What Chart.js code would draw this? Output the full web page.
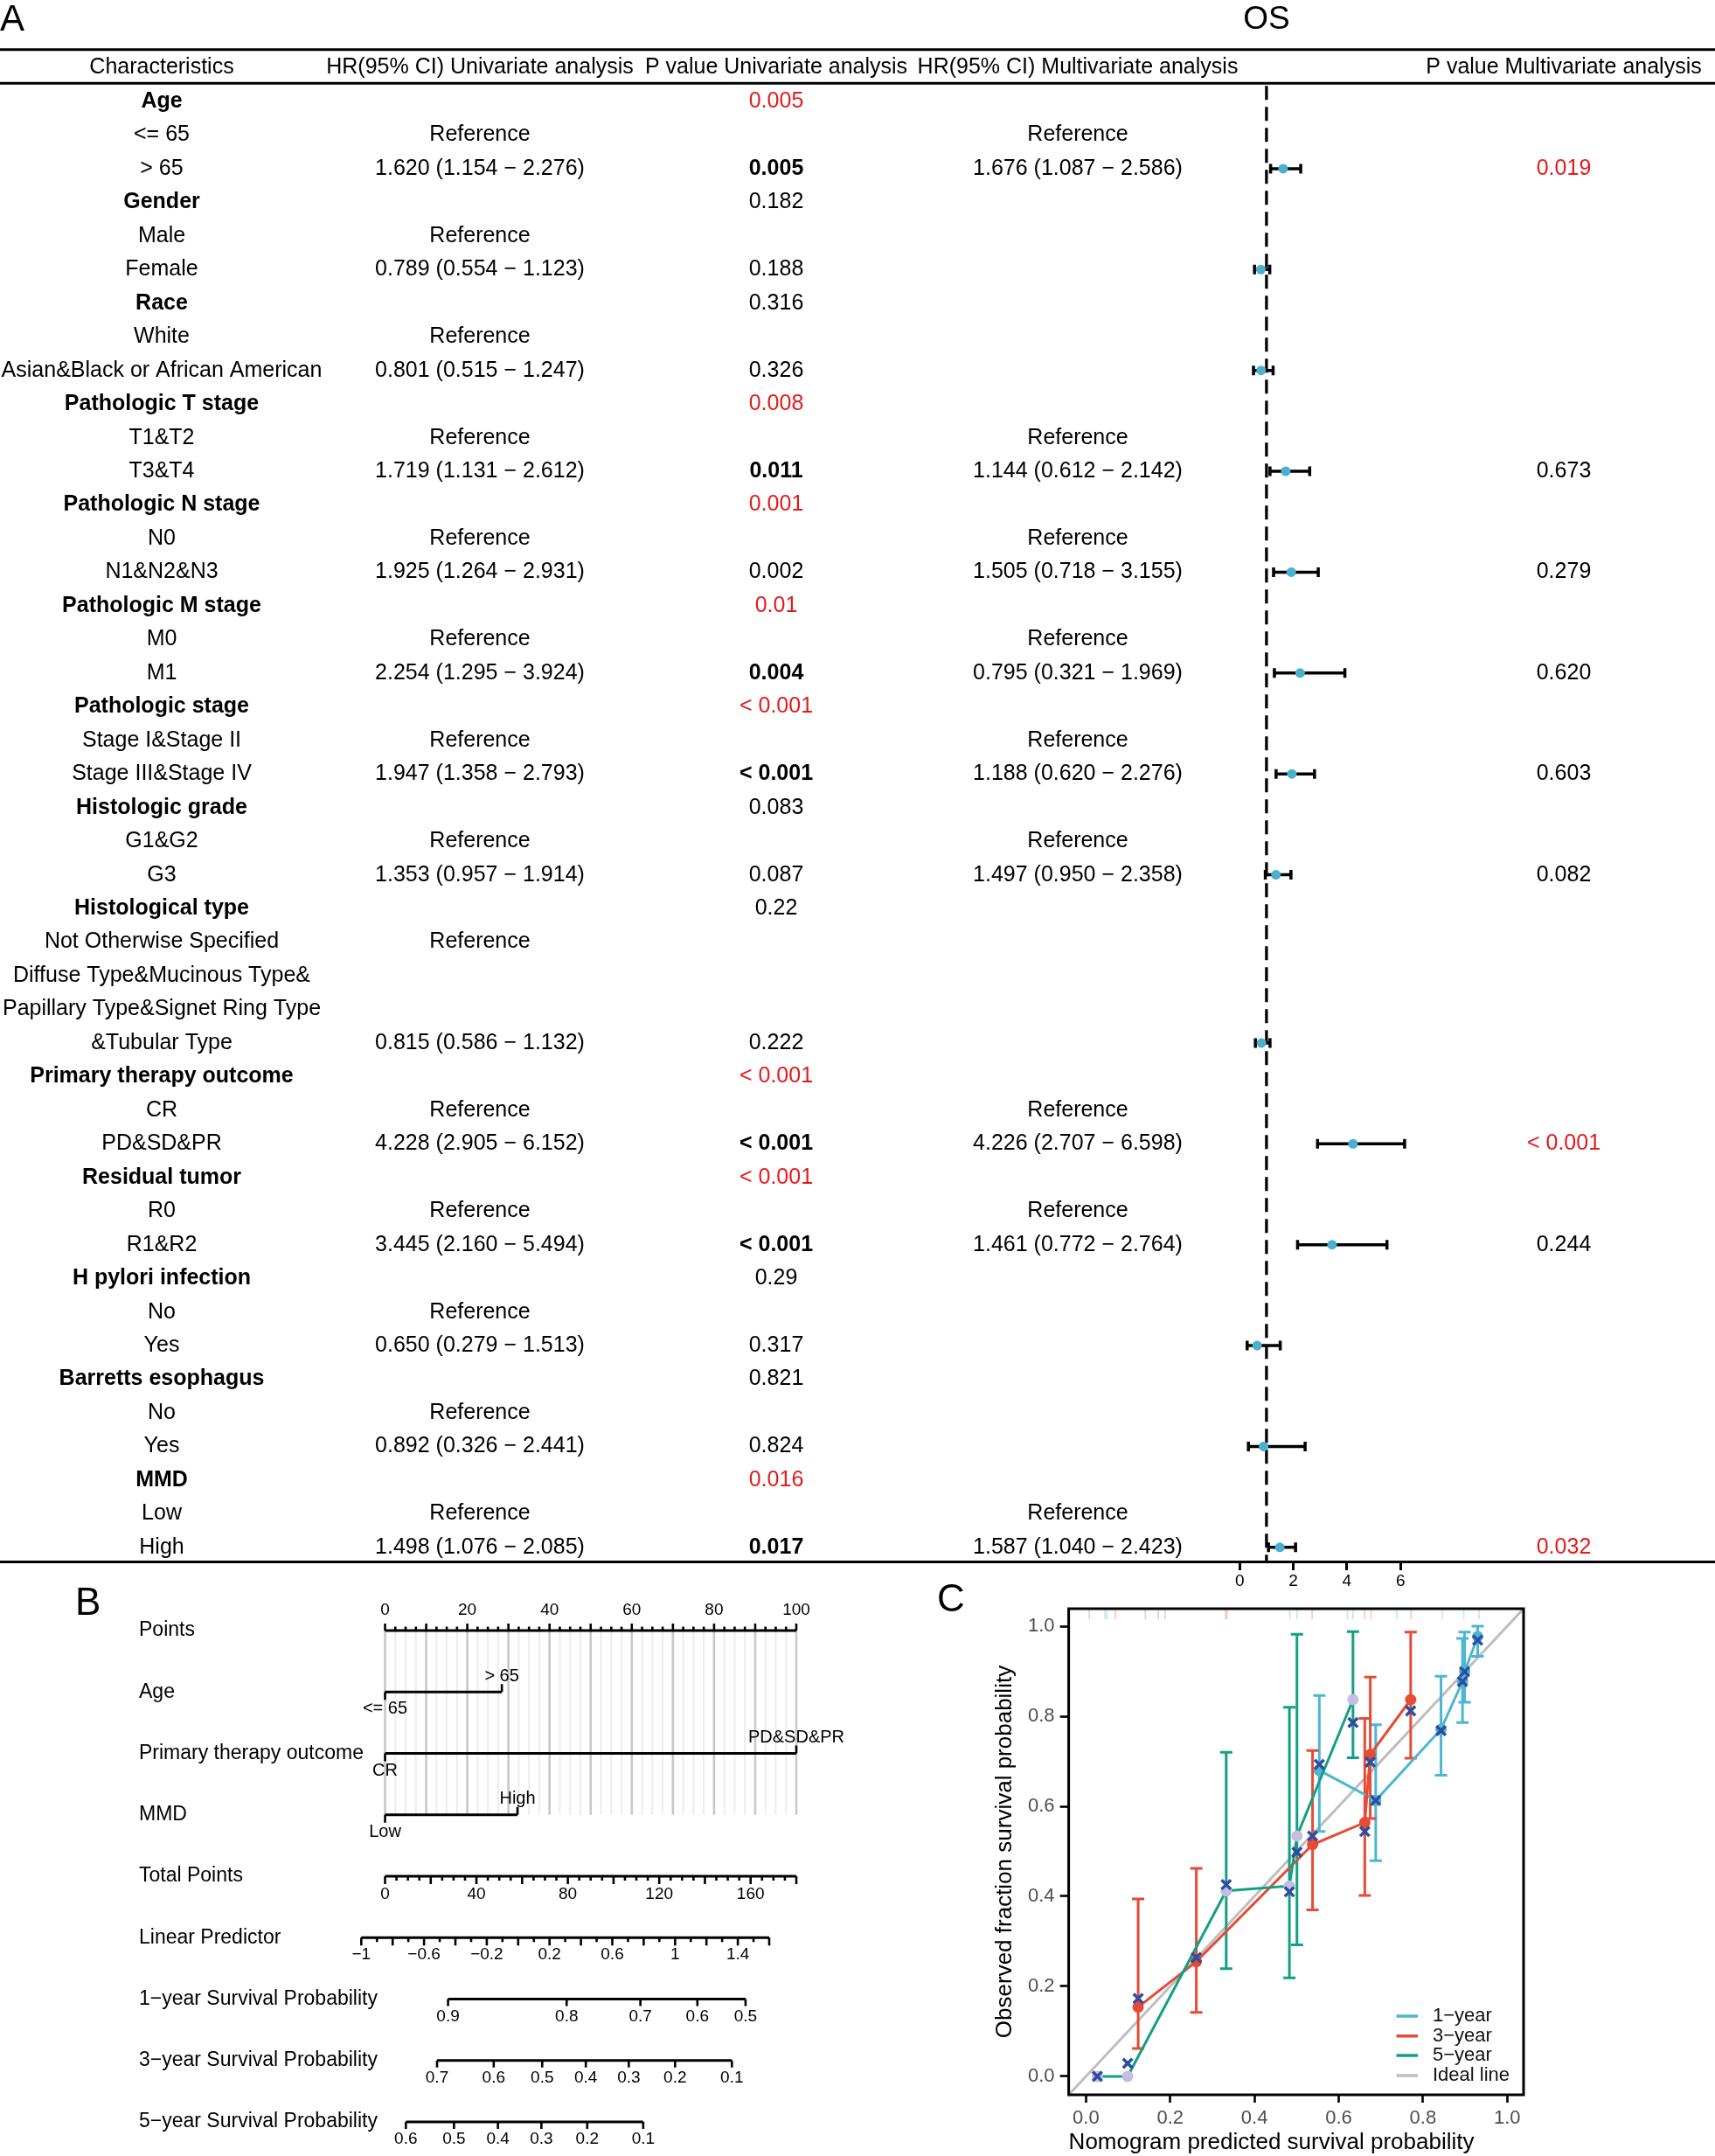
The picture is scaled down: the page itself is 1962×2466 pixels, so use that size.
<!DOCTYPE html>
<html>
<head>
<meta charset="utf-8">
<title>OS forest plot, nomogram and calibration</title>
<script src="https://cdn.jsdelivr.net/npm/chart.js@4.4.1/dist/chart.umd.min.js"></script>
<style>
  html, body { margin:0; padding:0; background:#ffffff; }
  body { width:1962px; height:2466px; position:relative; overflow:hidden; }
  canvas { position:absolute; display:block; }
</style>
</head>
<body>
<canvas id="panelA" width="1962" height="1830" style="left:0;top:0;width:1962px;height:1830px"></canvas>
<canvas id="panelB" width="1100" height="676" style="left:0;top:1790px;width:1100px;height:676px"></canvas>
<canvas id="panelC" width="912" height="676" style="left:1050px;top:1790px;width:912px;height:676px"></canvas>
<script>
// ================= DATA =================
// ---- Panel A : Cox regression table / forest plot ----
const characteristics = ['Age','<= 65','> 65','Gender','Male','Female','Race','White',
  'Asian&Black or African American','Pathologic T stage','T1&T2','T3&T4','Pathologic N stage','N0','N1&N2&N3',
  'Pathologic M stage','M0','M1','Pathologic stage','Stage I&Stage II','Stage III&Stage IV','Histologic grade',
  'G1&G2','G3','Histological type','Not Otherwise Specified','Diffuse Type&Mucinous Type&',
  'Papillary Type&Signet Ring Type','&Tubular Type','Primary therapy outcome','CR','PD&SD&PR','Residual tumor',
  'R0','R1&R2','H pylori infection','No','Yes','Barretts esophagus','No','Yes','MMD','Low','High'];
const headers = ['Characteristics','HR(95% CI) Univariate analysis','P value Univariate analysis',
  'HR(95% CI) Multivariate analysis','P value Multivariate analysis'];
const categoryRows = [0,3,6,9,12,15,18,21,24,29,32,35,38,41];
const pUniCategory = ['0.005','0.182','0.316','0.008','0.001','0.01','< 0.001','0.083','0.22','< 0.001','< 0.001','0.29','0.821','0.016'];
const pUniCategorySig = [1,0,0,1,1,1,1,0,0,1,1,0,0,1];
const refRowsUni = [1,4,7,10,13,16,19,22,25,30,33,36,39,42];
const hrRows = [2,5,8,11,14,17,20,23,28,31,34,37,40,43];
const hrUni   = [1.620,0.789,0.801,1.719,1.925,2.254,1.947,1.353,0.815,4.228,3.445,0.650,0.892,1.498];
const lowUni  = [1.154,0.554,0.515,1.131,1.264,1.295,1.358,0.957,0.586,2.905,2.160,0.279,0.326,1.076];
const highUni = [2.276,1.123,1.247,2.612,2.931,3.924,2.793,1.914,1.132,6.152,5.494,1.513,2.441,2.085];
const pUniRow = ['0.005','0.188','0.326','0.011','0.002','0.004','< 0.001','0.087','0.222','< 0.001','< 0.001','0.317','0.824','0.017'];
const pUniRowBold = [1,0,0,1,0,1,1,0,0,1,1,0,0,1];
const refRowsMulti = [1,10,13,16,19,22,30,33,42];
const multiRows = [2,11,14,17,20,23,31,34,43];
const hrMulti   = [1.676,1.144,1.505,0.795,1.188,1.497,4.226,1.461,1.587];
const lowMulti  = [1.087,0.612,0.718,0.321,0.620,0.950,2.707,0.772,1.040];
const highMulti = [2.586,2.142,3.155,1.969,2.276,2.358,6.598,2.764,2.423];
const pMulti = ['0.019','0.673','0.279','0.620','0.603','0.082','< 0.001','0.244','0.032'];
const pMultiSig = [1,0,0,0,0,0,1,0,1];
const forestTicks = [0,2,4,6];
const refHR = 1;

// ---- Panel B : nomogram ----
const nomoLabels = ['Points','Age','Primary therapy outcome','MMD','Total Points','Linear Predictor',
  '1\u2212year Survival Probability','3\u2212year Survival Probability','5\u2212year Survival Probability'];
const nomoVarRows = [1,2,3];
const nomoLevels = [['<= 65','> 65'],['CR','PD&SD&PR'],['Low','High']];
const nomoLevelPoints = [[0,28.4],[0,100],[0,32.2]];
const pointsRange = [0,100];
const pointsLabels = [0,20,40,60,80,100];
const totalRange = [0,180];
const totalLabels = [0,40,80,120,160];
const lpRange = [-1,1.6];
const lpLabels = [-1,-0.6,-0.2,0.2,0.6,1,1.4];
const surv1Labels = ['0.9','0.8','0.7','0.6','0.5'];
const surv1LP = [-0.447,0.309,0.779,1.142,1.449];
const surv3Labels = ['0.7','0.6','0.5','0.4','0.3','0.2','0.1'];
const surv3LP = [-0.517,-0.156,0.153,0.431,0.705,1.000,1.362];
const surv5Labels = ['0.6','0.5','0.4','0.3','0.2','0.1'];
const surv5LP = [-0.716,-0.409,-0.129,0.148,0.440,0.797];

// ---- Panel C : calibration ----
const calTicks = [0,0.2,0.4,0.6,0.8,1.0];
const year1X   = [0.554,0.688,0.843,0.894,0.899,0.930];
const year1Obs = [0.680,0.613,0.771,0.877,0.899,0.977];
const year1Cor = [0.693,0.613,0.768,0.877,0.899,0.969];
const year1Lo  = [0.544,0.479,0.669,0.786,0.831,0.933];
const year1Hi  = [0.846,0.781,0.889,0.973,0.987,1.000];
const year3X   = [0.124,0.262,0.538,0.662,0.675,0.771];
const year3Obs = [0.154,0.255,0.515,0.564,0.715,0.837];
const year3Cor = [0.173,0.264,0.534,0.544,0.698,0.812];
const year3Lo  = [0.062,0.142,0.370,0.402,0.573,0.707];
const year3Hi  = [0.394,0.462,0.724,0.795,0.887,0.987];
const year5X   = [0.027,0.099,0.333,0.483,0.501,0.634];
const year5Obs = [0.000,0.000,0.412,0.423,0.534,0.837];
const year5Cor = [0.000,0.029,0.426,0.410,0.498,0.786];
const year5Lo  = [null,null,0.239,0.219,0.292,0.708];
const year5Hi  = [null,null,0.720,0.820,0.982,0.988];
const rugX = [0.008,0.045,0.050,0.070,0.141,0.172,0.188,0.331,0.335,0.484,0.501,0.537,0.621,0.634,0.662,0.677,0.738,0.772,0.846,0.897,0.933];
const rugGroup = [2,0,0,1,2,1,2,1,1,0,0,1,0,0,1,1,0,1,0,0,0];
const legendLabels = ['1\u2212year','3\u2212year','5\u2212year','Ideal line'];

// ================= STYLE =================
const FONT = "'Liberation Sans', Arial, Helvetica, sans-serif";
Chart.defaults.font.family = FONT;
Chart.defaults.color = '#000';
const RED = '#E41A1C';
const DOT = '#4BAFCE';
const C1 = '#4DB6D3', C3 = '#E64B35', C5 = '#12A085', GRAY = '#BEBEBE';
const C5DOT = '#C4BEE0', XMARK = '#2D4D9F';
const RUGCOL = ['#C4E6F0','#F4C6BE','#CCDAD6'];

function fontStr(size, bold){ return (bold ? 'bold ' : '') + size + 'px ' + FONT; }
function text(ctx, s, x, y, size, opt){
  opt = opt || {};
  ctx.font = fontStr(size, opt.bold);
  ctx.fillStyle = opt.color || '#000';
  ctx.textAlign = opt.align || 'center';
  ctx.textBaseline = 'middle';
  ctx.fillText(s, x, y);
}
function fmtHR(h,l,u){ return h.toFixed(3)+' ('+l.toFixed(3)+' \u2212 '+u.toFixed(3)+')'; }

// ================= PANEL A =================
const colX = [185, 549, 888, 1233, 1789];
const A_Y_MIN = -3.016, A_Y_MAX = 43.42;
const ROW_HEADER = -1.02, RULE_TOP = -1.54, RULE_HEAD = -0.54, ROW_TITLE = -2.42;
const TABLE_FS = 25;

const forestPlugin = {
  id: 'forestTable',
  beforeDatasetsDraw(chart){
    const {ctx, chartArea} = chart;
    const sx = chart.scales.x, sy = chart.scales.y;
    ctx.save();
    ctx.strokeStyle = '#000';
    const x1 = sx.getPixelForValue(refHR);
    ctx.setLineDash([16, 8]);
    ctx.lineWidth = 3.3;
    ctx.beginPath();
    ctx.moveTo(x1, sy.getPixelForValue(RULE_HEAD) + 3);
    ctx.lineTo(x1, chartArea.bottom);
    ctx.stroke();
    ctx.setLineDash([]);
    ctx.lineWidth = 3.5;
    hrRows.forEach((r, i) => {
      const y = sy.getPixelForValue(r);
      const a = sx.getPixelForValue(lowUni[i]), b = sx.getPixelForValue(highUni[i]);
      ctx.beginPath();
      ctx.moveTo(a, y); ctx.lineTo(b, y);
      ctx.moveTo(a, y - 5.5); ctx.lineTo(a, y + 5.5);
      ctx.moveTo(b, y - 5.5); ctx.lineTo(b, y + 5.5);
      ctx.stroke();
    });
    ctx.restore();
  },
  afterDraw(chart){
    const {ctx, width} = chart;
    const sx = chart.scales.x, sy = chart.scales.y;
    ctx.save();
    ctx.strokeStyle = '#000'; ctx.lineWidth = 3;
    [RULE_TOP, RULE_HEAD].forEach(v => {
      const y = sy.getPixelForValue(v);
      ctx.beginPath(); ctx.moveTo(0, y); ctx.lineTo(width, y); ctx.stroke();
    });
    const yt = sy.getPixelForValue(ROW_TITLE);
    text(ctx, 'A', 0, yt, 42, {align:'left'});
    text(ctx, 'OS', sx.getPixelForValue(refHR), yt, 37);
    const yh = sy.getPixelForValue(ROW_HEADER);
    headers.forEach((h, i) => text(ctx, h, colX[i], yh, TABLE_FS));
    characteristics.forEach((lab, r) => {
      const y = sy.getPixelForValue(r);
      const ci = categoryRows.indexOf(r);
      text(ctx, lab, colX[0], y, TABLE_FS, {bold: ci >= 0});
      if (ci >= 0) text(ctx, pUniCategory[ci], colX[2], y, TABLE_FS, {color: pUniCategorySig[ci] ? RED : '#000'});
      if (refRowsUni.includes(r)) text(ctx, 'Reference', colX[1], y, TABLE_FS);
      const hi = hrRows.indexOf(r);
      if (hi >= 0) {
        text(ctx, fmtHR(hrUni[hi], lowUni[hi], highUni[hi]), colX[1], y, TABLE_FS);
        text(ctx, pUniRow[hi], colX[2], y, TABLE_FS, {bold: !!pUniRowBold[hi]});
      }
      if (refRowsMulti.includes(r)) text(ctx, 'Reference', colX[3], y, TABLE_FS);
      const mi = multiRows.indexOf(r);
      if (mi >= 0) {
        text(ctx, fmtHR(hrMulti[mi], lowMulti[mi], highMulti[mi]), colX[3], y, TABLE_FS);
        text(ctx, pMulti[mi], colX[4], y, TABLE_FS, {color: pMultiSig[mi] ? RED : '#000'});
      }
    });
    ctx.restore();
  }
};

new Chart(document.getElementById('panelA'), {
  type: 'scatter',
  data: { datasets: [{
    data: hrRows.map((r, i) => ({x: hrUni[i], y: r})),
    pointRadius: 5.5, pointHoverRadius: 5.5,
    pointBackgroundColor: DOT, pointBorderColor: DOT, pointBorderWidth: 0
  }]},
  options: {
    responsive: false, animation: false, events: [],
    layout: { padding: 0, autoPadding: false },
    plugins: { legend: {display:false}, tooltip: {enabled:false} },
    scales: {
      x: { type:'linear', position:'bottom', min:-46.24, max:17.73,
        afterBuildTicks: s => { s.ticks = forestTicks.map(v => ({value:v})); },
        afterFit: s => { s.height = 44; },
        grid: { drawOnChartArea:false, drawTicks:true, tickLength:10, tickWidth:3, tickColor:'#000', color:'#000' },
        border: { display:true, color:'#000', width:3 },
        ticks: { color:'#000', font:{size:19}, padding:1, maxRotation:0, autoSkip:false } },
      y: { type:'linear', display:false, min:A_Y_MIN, max:A_Y_MAX, reverse:true }
    }
  },
  plugins: [forestPlugin]
});

// ================= PANEL B =================
const B_Y_MIN = -1.0676, B_Y_MAX = 8.5552;
const LP_MIN = -0.8485, LP_MAX = 1.7727;

function axisLine(ctx, x0, x1, y){
  ctx.lineWidth = 3; ctx.beginPath(); ctx.moveTo(x0, y); ctx.lineTo(x1, y); ctx.stroke();
}
function tick(ctx, x, y, len){
  ctx.lineWidth = 2.6; ctx.beginPath(); ctx.moveTo(x, y); ctx.lineTo(x, y + len); ctx.stroke();
}
function lpText(v){ const a = Math.abs(v); return (v < 0 ? '\u2212' : '') + String(Math.round(a*10)/10); }

const nomoPlugin = {
  id: 'nomogram',
  beforeDatasetsDraw(chart){
    const {ctx} = chart; const sx = chart.scales.x, sy = chart.scales.y;
    ctx.save();
    const y0 = sy.getPixelForValue(0), y1 = sy.getPixelForValue(nomoVarRows[nomoVarRows.length-1]);
    for (let i = 0; i <= 40; i++) {
      const v = pointsRange[0] + i * 2.5;
      const major = i % 4 === 0;
      ctx.strokeStyle = major ? '#C8C8C8' : '#ECECEC';
      ctx.lineWidth = major ? 2.6 : 2;
      const px = sx.getPixelForValue(v);
      ctx.beginPath(); ctx.moveTo(px, y0); ctx.lineTo(px, y1); ctx.stroke();
    }
    ctx.restore();
  },
  afterDatasetsDraw(chart){
    const {ctx} = chart;
    const sx = chart.scales.x, st = chart.scales.tot, sl = chart.scales.lp, sy = chart.scales.y;
    ctx.save();
    ctx.strokeStyle = '#000';
    text(ctx, 'B', 86, 45, 44, {align:'left'});
    nomoLabels.forEach((l, i) => text(ctx, l, 159, sy.getPixelForValue(i), 23, {align:'left'}));
    let y = sy.getPixelForValue(0);
    axisLine(ctx, sx.getPixelForValue(pointsRange[0]), sx.getPixelForValue(pointsRange[1]), y);
    for (let i = 0; i <= 40; i++) tick(ctx, sx.getPixelForValue(i * 2.5), y, i % 4 === 0 ? -8 : -4.5);
    pointsLabels.forEach(v => text(ctx, String(v), sx.getPixelForValue(v), y - 23, 19));
    nomoVarRows.forEach((row, k) => {
      const yy = sy.getPixelForValue(row);
      const pts = nomoLevelPoints[k];
      const xa = sx.getPixelForValue(pts[0]), xb = sx.getPixelForValue(pts[1]);
      tick(ctx, xa, yy, 9);
      tick(ctx, xb, yy, -9);
      text(ctx, nomoLevels[k][0], xa, yy + 19.5, 20);
      text(ctx, nomoLevels[k][1], xb, yy - 18, 20);
    });
    y = sy.getPixelForValue(4);
    axisLine(ctx, st.getPixelForValue(totalRange[0]), st.getPixelForValue(totalRange[1]), y);
    for (let i = 0; i <= 36; i++) tick(ctx, st.getPixelForValue(i * 5), y, i % 4 === 0 ? 9 : 5);
    totalLabels.forEach(v => text(ctx, String(v), st.getPixelForValue(v), y + 21, 19));
    y = sy.getPixelForValue(5);
    axisLine(ctx, sl.getPixelForValue(lpRange[0]), sl.getPixelForValue(lpRange[1]), y);
    for (let i = 0; i <= 26; i++) tick(ctx, sl.getPixelForValue(lpRange[0] + i * 0.1), y, i % 2 === 0 ? 9 : 5);
    lpLabels.forEach(v => text(ctx, lpText(v), sl.getPixelForValue(v), y + 20, 19));
    [[surv1Labels, surv1LP], [surv3Labels, surv3LP], [surv5Labels, surv5LP]].forEach((ax, k) => {
      const yy = sy.getPixelForValue(6 + k);
      const pos = ax[1];
      axisLine(ctx, sl.getPixelForValue(pos[0]), sl.getPixelForValue(pos[pos.length-1]), yy);
      pos.forEach((p, i) => {
        const px = sl.getPixelForValue(p);
        tick(ctx, px, yy, 8);
        text(ctx, ax[0][i], px, yy + 20, 19);
      });
    });
    ctx.restore();
  }
};

new Chart(document.getElementById('panelB'), {
  type: 'scatter',
  data: { datasets: nomoVarRows.map((row, k) => ({
    data: nomoLevelPoints[k].map(p => ({x: p, y: row})),
    showLine: true, borderColor: '#000', borderWidth: 3, pointRadius: 0, clip: false,
    xAxisID: 'x', yAxisID: 'y'
  }))},
  options: {
    responsive: false, animation: false, events: [],
    layout: { padding: { left: 440.5, right: 189, top: 0, bottom: 0 }, autoPadding: false },
    plugins: { legend: {display:false}, tooltip: {enabled:false} },
    scales: {
      x:   { type:'linear', axis:'x', position:'bottom', display:false, min:pointsRange[0], max:pointsRange[1] },
      tot: { type:'linear', axis:'x', position:'bottom', display:false, min:totalRange[0], max:totalRange[1] },
      lp:  { type:'linear', axis:'x', position:'bottom', display:false, min:LP_MIN, max:LP_MAX },
      y:   { type:'linear', display:false, min:B_Y_MIN, max:B_Y_MAX, reverse:true }
    }
  },
  plugins: [nomoPlugin]
});

// ================= PANEL C =================
const CAL_MIN = -0.041, CAL_MAX = 1.039, RUG_Y = 1.026;
const calSeries = [
  {x: year1X, obs: year1Obs, cor: year1Cor, lo: year1Lo, hi: year1Hi, color: C1, dot: C1},
  {x: year3X, obs: year3Obs, cor: year3Cor, lo: year3Lo, hi: year3Hi, color: C3, dot: C3},
  {x: year5X, obs: year5Obs, cor: year5Cor, lo: year5Lo, hi: year5Hi, color: C5, dot: C5DOT}
];
const legendColors = [C1, C3, C5, GRAY];

const calPlugin = {
  id: 'calibration',
  afterDatasetDraw(chart, args){
    if (args.index !== 0) return;
    const {ctx} = chart; const sx = chart.scales.x, sy = chart.scales.y;
    ctx.save();
    ctx.lineWidth = 3;
    calSeries.forEach(s => {
      ctx.strokeStyle = s.color;
      s.x.forEach((xv, i) => {
        if (s.lo[i] == null) return;
        const px = sx.getPixelForValue(xv), a = sy.getPixelForValue(s.lo[i]), b = sy.getPixelForValue(s.hi[i]);
        ctx.beginPath();
        ctx.moveTo(px, a); ctx.lineTo(px, b);
        ctx.moveTo(px - 7, a); ctx.lineTo(px + 7, a);
        ctx.moveTo(px - 7, b); ctx.lineTo(px + 7, b);
        ctx.stroke();
      });
    });
    ctx.restore();
  },
  afterDraw(chart){
    const {ctx, chartArea: ca} = chart;
    ctx.save();
    ctx.strokeStyle = '#000'; ctx.lineWidth = 3;
    ctx.strokeRect(ca.left, ca.top, ca.right - ca.left, ca.bottom - ca.top);
    text(ctx, 'C', 22, 41, 44, {align:'left'});
    const ys = [ca.bottom - 90, ca.bottom - 67.2, ca.bottom - 45, ca.bottom - 22];
    legendLabels.forEach((l, i) => {
      ctx.strokeStyle = legendColors[i]; ctx.lineWidth = 3.5;
      ctx.beginPath(); ctx.moveTo(ca.right - 145.5, ys[i]); ctx.lineTo(ca.right - 121, ys[i]); ctx.stroke();
      text(ctx, l, ca.right - 104, ys[i], 22, {align:'left', color:'#111'});
    });
    ctx.restore();
  }
};

const calDatasets = [
  { data: [{x: CAL_MIN, y: CAL_MIN}, {x: CAL_MAX, y: CAL_MAX}], showLine: true, borderColor: GRAY, borderWidth: 3, pointRadius: 0, order: 10 },
  { data: rugX.map(v => ({x: v, y: RUG_Y})), pointStyle: 'line', rotation: 90, pointRadius: 5.5,
    borderColor: rugGroup.map(g => RUGCOL[g]), pointBorderColor: rugGroup.map(g => RUGCOL[g]), pointBorderWidth: 1.6, order: 9 }
];
calSeries.forEach((s, k) => {
  calDatasets.push({
    data: s.x.map((xv, i) => ({x: xv, y: s.obs[i]})), showLine: true, borderColor: s.color, borderWidth: 3,
    pointRadius: 6.5, pointBackgroundColor: s.dot, pointBorderColor: s.dot, pointBorderWidth: 0, order: 5 - k
  });
});
calDatasets.push({
  data: calSeries.flatMap(s => s.x.map((xv, i) => ({x: xv, y: s.cor[i]}))),
  pointStyle: 'crossRot', pointRadius: 7.5, pointBorderColor: XMARK, pointBorderWidth: 3.5, order: 0
});

new Chart(document.getElementById('panelC'), {
  type: 'scatter',
  data: { datasets: calDatasets },
  options: {
    responsive: false, animation: false, events: [],
    layout: { padding: { left: 0, top: 50, right: 219, bottom: 0 }, autoPadding: false },
    plugins: { legend: {display:false}, tooltip: {enabled:false} },
    scales: {
      x: { type:'linear', min: CAL_MIN, max: CAL_MAX,
        afterBuildTicks: s => { s.ticks = calTicks.map(v => ({value:v})); },
        afterFit: s => { s.height = 70; },
        grid: { drawOnChartArea:false, drawTicks:true, tickLength:9, tickWidth:2.6, tickColor:'#000' },
        border: { display:false },
        ticks: { color:'#4D4D4D', font:{size:22}, padding:5, maxRotation:0, autoSkip:false, callback: v => Number(v).toFixed(1) },
        title: { display:true, text:'Nomogram predicted survival probability', align:'start', color:'#000', font:{size:26}, padding:{top:0, bottom:0} } },
      y: { type:'linear', min: CAL_MIN, max: CAL_MAX,
        afterBuildTicks: s => { s.ticks = calTicks.map(v => ({value:v})); },
        afterFit: s => { s.width = 172.6; },
        grid: { drawOnChartArea:false, drawTicks:true, tickLength:10, tickWidth:2.6, tickColor:'#000' },
        border: { display:false },
        ticks: { color:'#4D4D4D', font:{size:22}, padding:6, autoSkip:false, callback: v => Number(v).toFixed(1) },
        title: { display:true, text:'Observed fraction survival probability', color:'#000', font:{size:26}, padding:{top:84, bottom:0} } }
    }
  },
  plugins: [calPlugin]
});
</script>
</body>
</html>
